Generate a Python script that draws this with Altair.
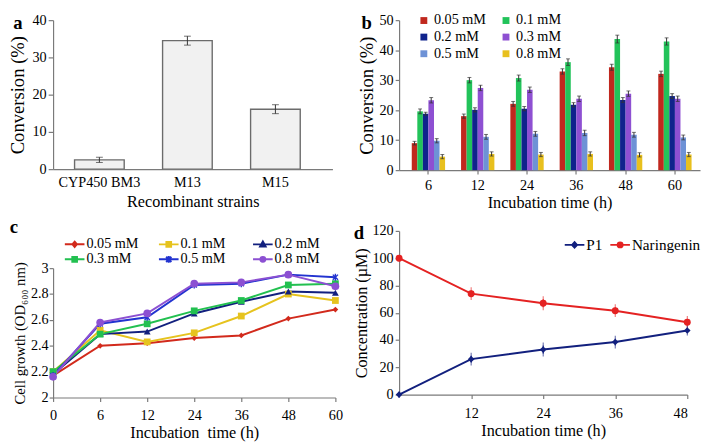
import altair as alt
import pandas as pd

FONT = "Times New Roman, Liberation Serif, DejaVu Serif, serif"
AXIS_GRAY = "#7a7a7a"

# ---------------- data ----------------
# panel a
strains = ["CYP450 BM3", "M13", "M15"]
strain_conv = [2.5, 34.5, 16.1]
strain_err = [0.7, 1.2, 1.2]

# panel b
times_b = ["6", "12", "24", "36", "48", "60"]
concs = ["0.05 mM", "0.1 mM", "0.2 mM", "0.3 mM", "0.5 mM", "0.8 mM"]
conv_005 = [9.0, 18.0, 22.1, 32.9, 34.3, 32.1]
conv_01 = [19.6, 30.0, 30.7, 36.0, 43.7, 42.9]
conv_02 = [18.8, 20.1, 20.5, 21.8, 23.4, 24.7]
conv_03 = [23.3, 27.4, 26.8, 23.8, 25.5, 23.8]
conv_05 = [9.8, 11.1, 12.1, 12.4, 11.8, 10.9]
conv_08 = [4.5, 5.4, 5.2, 5.4, 5.1, 5.2]
err_005 = [0.6, 0.7, 0.8, 0.9, 1.0, 0.9]
err_01 = [0.8, 0.9, 1.0, 1.1, 1.3, 1.2]
err_02 = [0.5, 0.7, 0.7, 0.7, 0.8, 0.8]
err_03 = [0.9, 0.9, 0.9, 0.9, 0.9, 0.9]
err_05 = [0.7, 0.8, 0.8, 0.9, 0.8, 0.8]
err_08 = [0.7, 0.7, 0.7, 0.7, 0.7, 0.7]
colors_b = ["#C0281E", "#22C35A", "#0F238C", "#8E50D2", "#6E92D6", "#E8C01E"]

# panel c
times_c = ["0", "6", "12", "24", "36", "48", "60"]
od_005 = [2.17, 2.40, 2.42, 2.46, 2.48, 2.61, 2.68]
od_01 = [2.20, 2.52, 2.43, 2.50, 2.63, 2.80, 2.75]
od_02 = [2.18, 2.49, 2.51, 2.65, 2.74, 2.82, 2.81]
od_03 = [2.20, 2.49, 2.57, 2.67, 2.75, 2.87, 2.88]
od_05 = [2.17, 2.57, 2.62, 2.87, 2.88, 2.95, 2.93]
od_08 = [2.16, 2.58, 2.65, 2.88, 2.89, 2.95, 2.86]
colors_c = ["#D22A1C", "#E6C31E", "#12207E", "#22C050", "#2233D0", "#8C50D2"]

# panel d
series_d = ["P1", "Naringenin"]
times_d = [0, 12, 24, 36, 48]
p1 = [0, 26, 33, 38.5, 47]
p1_err = [0, 2.5, 3.0, 2.5, 1.5]
nar = [100, 74, 67, 61.5, 53]
nar_err = [0, 2.5, 3.0, 2.5, 2.5]
colors_d = ["#12207E", "#E42222"]

# marker shapes
ASTER = "M-0.75,-0.75L0.75,0.75M0.75,-0.75L-0.75,0.75M0,-1V1"
shapes_c = ["diamond", "square", "triangle-up", "square", ASTER, "circle"]
sizes_c = [34, 48, 48, 48, 50, 62]
filled_c = [True, True, True, True, False, True]
# legend symbols: a line segment through the marker (line reaches past the unit box)
LEG_LINE = "M-1.43,0H1.43"
leg_shapes_c = [
    LEG_LINE + "M0,-0.38L0.32,0L0,0.38L-0.32,0Z",
    LEG_LINE + "M-0.34,-0.34H0.34V0.34H-0.34Z",
    LEG_LINE + "M0,-0.42L0.4,0.3H-0.4Z",
    LEG_LINE + "M-0.34,-0.34H0.34V0.34H-0.34Z",
    LEG_LINE + "M-0.38,-0.38L0.38,0.38M0.38,-0.38L-0.38,0.38M0,-0.48V0.48",
    LEG_LINE + "M-0.36,0A0.36,0.36,0,1,0,0.36,0A0.36,0.36,0,1,0,-0.36,0Z",
]
leg_shapes_d = [
    LEG_LINE + "M0,-0.4L0.36,0L0,0.4L-0.36,0Z",
    LEG_LINE + "M-0.36,0A0.36,0.36,0,1,0,0.36,0A0.36,0.36,0,1,0,-0.36,0Z",
]


def letter(ch, dx, dy):
    return alt.Chart(pd.DataFrame({"p": [ch]})).mark_text(
        font=FONT, fontSize=19, fontWeight="bold", align="center", baseline="middle", color="#000"
    ).encode(text="p:N", x=alt.value(dx), y=alt.value(dy))


# ---------------- panel a ----------------
df_a = pd.DataFrame({"strain": strains, "conv": strain_conv, "err": strain_err})
df_a["lo"] = df_a["conv"] - df_a["err"]
df_a["hi"] = df_a["conv"] + df_a["err"]

xa = alt.X("strain:N", sort=strains, title="Recombinant strains",
           scale=alt.Scale(paddingInner=0.436, paddingOuter=0.305, align=0.4),
           axis=alt.Axis(labelAngle=0, ticks=False, labelPadding=7, titlePadding=5))
ya_axis = alt.Axis(values=[0, 10, 20, 30, 40], tickSize=5, labelPadding=2, titlePadding=5,
                   titleFontSize=19, labelOverlap=False)
ya_scale = alt.Scale(domain=[0, 40])
base_a = alt.Chart(df_a)
bars_a = base_a.mark_bar(fill="#f1f1f1", stroke="#6b6b6b", strokeWidth=1.4).encode(
    x=xa, y=alt.Y("conv:Q", title="Conversion (%)", scale=ya_scale, axis=ya_axis))
err_a = base_a.mark_rule(color="#333", strokeWidth=1).encode(
    x=xa, y=alt.Y("lo:Q", title="Conversion (%)", scale=ya_scale, axis=ya_axis), y2="hi:Q")
cap_lo_a = base_a.mark_tick(color="#333", size=7, thickness=1).encode(
    x=xa, y=alt.Y("lo:Q", title="Conversion (%)", scale=ya_scale, axis=ya_axis))
cap_hi_a = base_a.mark_tick(color="#333", size=7, thickness=1).encode(
    x=xa, y=alt.Y("hi:Q", title="Conversion (%)", scale=ya_scale, axis=ya_axis))
panel_a = alt.layer(bars_a, err_a, cap_lo_a, cap_hi_a, letter("a", -36, 3)).properties(width=285, height=152)

# ---------------- panel b ----------------
rows = []
for c, vals, errs in zip(concs, [conv_005, conv_01, conv_02, conv_03, conv_05, conv_08],
                         [err_005, err_01, err_02, err_03, err_05, err_08]):
    for t, v, e in zip(times_b, vals, errs):
        rows.append({"time": t, "conc": c, "conv": v, "lo": v - e, "hi": v + e})
df_b = pd.DataFrame(rows)

xb = alt.X("time:N", sort=times_b, title="Incubation time (h)",
           scale=alt.Scale(paddingInner=0.324, paddingOuter=0.214, align=0.6),
           axis=alt.Axis(labelAngle=0, tickSize=4, labelPadding=5, titlePadding=3))
xob = alt.XOffset("conc:N", sort=concs, scale=alt.Scale(paddingInner=0, paddingOuter=0))
yb_axis = alt.Axis(values=[0, 10, 20, 30, 40, 50], tickSize=4, labelPadding=2, titlePadding=3,
                   titleFontSize=19, labelOverlap=False)
yb_scale = alt.Scale(domain=[0, 50])
leg_b = alt.Legend(title=None, orient="none", legendX=18, legendY=-7, columns=2, direction="horizontal",
                   symbolType="square", symbolSize=49, symbolStrokeWidth=0, labelOffset=3,
                   columnPadding=12.8, rowPadding=2)
cb = alt.Color("conc:N", sort=concs, scale=alt.Scale(domain=concs, range=colors_b), legend=leg_b)
base_b = alt.Chart(df_b)
bars_b = base_b.mark_bar().encode(
    x=xb, xOffset=xob, y=alt.Y("conv:Q", title="Conversion (%)", scale=yb_scale, axis=yb_axis), color=cb)
err_b = base_b.mark_rule(color="#333", strokeWidth=1).encode(
    x=xb, xOffset=xob, y=alt.Y("lo:Q", title="Conversion (%)", scale=yb_scale, axis=yb_axis), y2="hi:Q")
cap_lo_b = base_b.mark_tick(color="#333", size=4, thickness=1).encode(
    x=xb, xOffset=xob, y=alt.Y("lo:Q", title="Conversion (%)", scale=yb_scale, axis=yb_axis))
cap_hi_b = base_b.mark_tick(color="#333", size=4, thickness=1).encode(
    x=xb, xOffset=xob, y=alt.Y("hi:Q", title="Conversion (%)", scale=yb_scale, axis=yb_axis))
panel_b = alt.layer(bars_b, err_b, cap_lo_b, cap_hi_b, letter("b", -33, 3)).properties(width=307, height=153)

# ---------------- panel c ----------------
rows = []
for c, vals in zip(concs, [od_005, od_01, od_02, od_03, od_05, od_08]):
    for i, (t, v) in enumerate(zip(times_c, vals)):
        rows.append({"time": t, "idx": i, "conc": c, "od": v})
df_c = pd.DataFrame(rows)

xc = alt.X("time:N", sort=times_c, title="Incubation\u00a0 time (h)",
           scale=alt.Scale(type="point", padding=0),
           axis=alt.Axis(labelAngle=0, tickSize=4, labelPadding=7, titlePadding=3))
yc = alt.Y("od:Q", title="Cell growth (OD\u2086\u2080\u2080 nm)", scale=alt.Scale(domain=[2, 3]),
           axis=alt.Axis(values=[2, 2.2, 2.4, 2.6, 2.8, 3], format="~g", tickSize=4, labelPadding=1,
                         titlePadding=3, titleFontSize=15, labelOverlap=False))
cc_scale = alt.Scale(domain=concs, range=colors_c)
leg_c = alt.Legend(title=None, orient="none", legendX=14, legendY=-33, columns=3, direction="horizontal",
                   symbolSize=196, symbolStrokeWidth=2, symbolOpacity=1, labelOffset=4,
                   columnPadding=15, rowPadding=0, gridAlign="all")
# legend-only layer (first, so that its legend settings win when layers are merged)
legend_c = alt.Chart(df_c).transform_filter("false").mark_point(filled=True, opacity=1).encode(
    x=xc, y=yc,
    color=alt.Color("conc:N", sort=concs, scale=cc_scale, legend=leg_c),
    stroke=alt.Stroke("conc:N", sort=concs, scale=alt.Scale(domain=concs, range=colors_c), legend=leg_c),
    shape=alt.Shape("conc:N", sort=concs, scale=alt.Scale(domain=concs, range=leg_shapes_c), legend=leg_c),
)
lines_c = alt.Chart(df_c).mark_line(strokeWidth=2).encode(
    x=xc, y=yc, color=alt.Color("conc:N", sort=concs, scale=cc_scale, legend=None), order="idx:Q")
pts_c = []
for c, shp, sz, fl in zip(concs, shapes_c, sizes_c, filled_c):
    pts_c.append(
        alt.Chart(df_c).transform_filter(alt.datum.conc == c).mark_point(
            shape=shp, size=sz, filled=fl, opacity=1, strokeWidth=1.4
        ).encode(x=xc, y=yc, color=alt.Color("conc:N", sort=concs, scale=cc_scale, legend=None))
    )
panel_c = alt.layer(legend_c, lines_c, *pts_c, letter("c", -40, -42)).properties(width=288, height=132)

# ---------------- panel d ----------------
rows = []
for s, vals, errs in zip(series_d, [p1, nar], [p1_err, nar_err]):
    for t, v, e in zip(times_d, vals, errs):
        rows.append({"time": t, "series": s, "conc": v, "lo": v - e, "hi": v + e})
df_d = pd.DataFrame(rows)

xd = alt.X("time:Q", title="Incubation time (h)", scale=alt.Scale(domain=[0, 48], nice=False),
           axis=alt.Axis(values=[12, 24, 36, 48], tickSize=4, labelPadding=8, titlePadding=3))
yd_axis = alt.Axis(values=[0, 20, 40, 60, 80, 100, 120], tickSize=4, labelPadding=2, titlePadding=3,
                   labelOverlap=False)
yd_scale = alt.Scale(domain=[0, 120])
TD = "Concentration (\u00b5M)"
cd_scale = alt.Scale(domain=series_d, range=colors_d)
leg_d = alt.Legend(title=None, orient="none", legendX=171, legendY=6, columns=2, direction="horizontal",
                   symbolSize=196, symbolStrokeWidth=2, symbolOpacity=1, labelOffset=4,
                   labelFontSize=15.5, columnPadding=2.5)
cd = alt.Color("series:N", sort=series_d, scale=cd_scale, legend=None)
yd = alt.Y("conc:Q", title=TD, scale=yd_scale, axis=yd_axis)
legend_d = alt.Chart(df_d).transform_filter("false").mark_point(filled=True, opacity=1).encode(
    x=xd, y=yd,
    color=alt.Color("series:N", sort=series_d, scale=cd_scale, legend=leg_d),
    stroke=alt.Stroke("series:N", sort=series_d, scale=alt.Scale(domain=series_d, range=colors_d), legend=leg_d),
    shape=alt.Shape("series:N", sort=series_d, scale=alt.Scale(domain=series_d, range=leg_shapes_d), legend=leg_d),
)
err_d = alt.Chart(df_d).mark_rule(strokeWidth=1).encode(
    x=xd, y=alt.Y("lo:Q", title=TD, scale=yd_scale, axis=yd_axis), y2="hi:Q", color=cd)
cap_lo_d = alt.Chart(df_d).mark_tick(size=6, thickness=1).encode(
    x=xd, y=alt.Y("lo:Q", title=TD, scale=yd_scale, axis=yd_axis), color=cd)
cap_hi_d = alt.Chart(df_d).mark_tick(size=6, thickness=1).encode(
    x=xd, y=alt.Y("hi:Q", title=TD, scale=yd_scale, axis=yd_axis), color=cd)
lines_d = alt.Chart(df_d).mark_line(strokeWidth=2).encode(x=xd, y=yd, color=cd, detail="series:N")
pt_p1 = alt.Chart(df_d).transform_filter(alt.datum.series == "P1").mark_point(
    shape="diamond", size=45, filled=True, opacity=1).encode(x=xd, y=yd, color=cd)
pt_nar = alt.Chart(df_d).transform_filter(alt.datum.series == "Naringenin").mark_point(
    shape="circle", size=50, filled=True, opacity=1).encode(x=xd, y=yd, color=cd)
panel_d = alt.layer(legend_d, err_d, cap_lo_d, cap_hi_d, lines_d, pt_p1, pt_nar,
                    letter("d", -41, 2)).properties(width=294, height=167)

# ---------------- layout ----------------
IND = dict(color="independent", stroke="independent", shape="independent")
left = alt.vconcat(panel_a, panel_c, spacing=101, bounds="flush").resolve_scale(**IND).resolve_legend(**IND)
right = alt.vconcat(panel_b, panel_d, spacing=62, bounds="flush").resolve_scale(**IND).resolve_legend(**IND)
chart = alt.hconcat(left, right, spacing=10).resolve_scale(**IND).resolve_legend(**IND).properties(
    padding={"left": 0, "top": 0, "right": 0, "bottom": 0}
).configure_axis(
    domainColor=AXIS_GRAY, domainWidth=1.2, tickColor=AXIS_GRAY, tickWidth=1.2,
    labelFont=FONT, labelFontSize=14.5, labelColor="#000",
    titleFont=FONT, titleFontSize=16.5, titleFontWeight="normal", titleColor="#000", grid=False,
).configure_view(stroke=None).configure_legend(
    labelFont=FONT, labelFontSize=14.5, labelColor="#000"
)

chart.save("out.html", embed_options={"renderer": "svg", "actions": False})
